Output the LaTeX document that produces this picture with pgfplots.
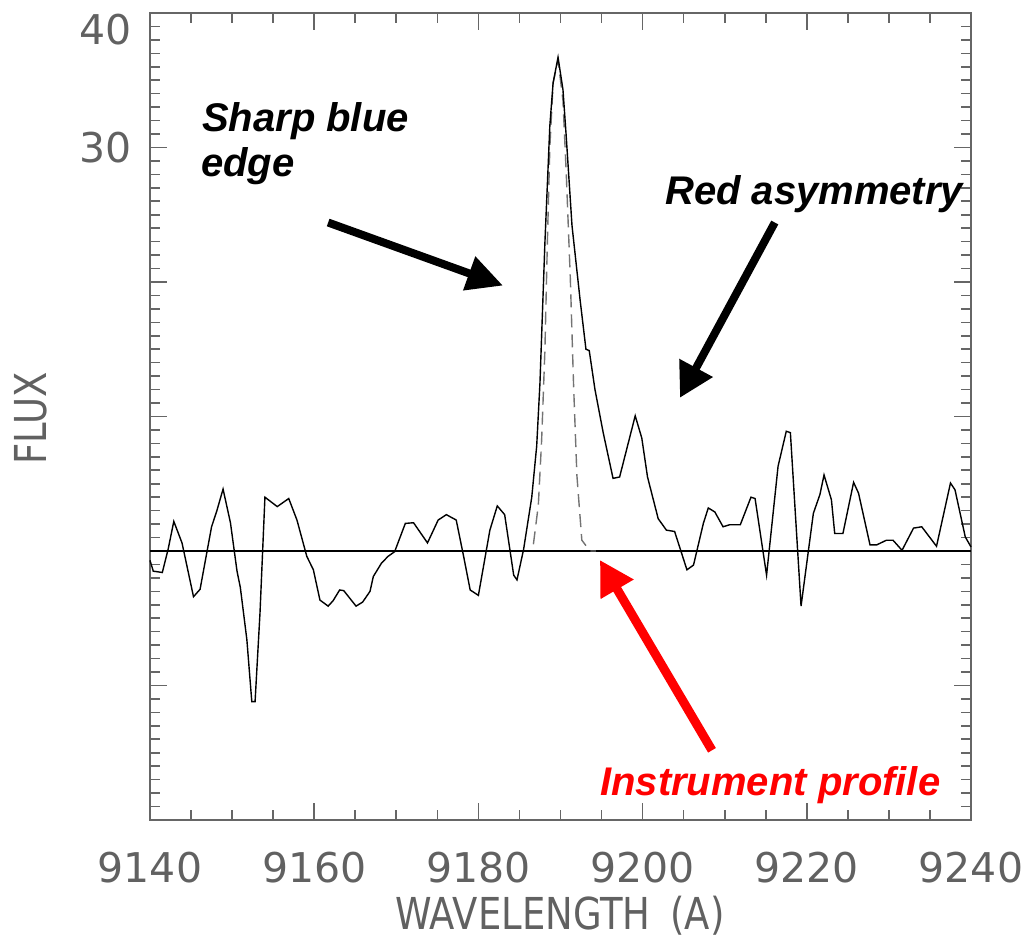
\documentclass[border=0pt]{standalone}
\usepackage{fontspec}
\usepackage{pgfplots}
\pgfplotsset{compat=1.18}
\usetikzlibrary{arrows.meta}

\newfontfamily\tickfont{DejaVu Sans}
\newfontfamily\labfont[FakeStretch=0.84]{DejaVu Sans}
\newfontfamily\annfont{Liberation Sans}

\begin{document}
\begin{tikzpicture}
\begin{axis}[
    scale only axis,
    width=410.5pt, height=403.5pt,
    xmin=9140, xmax=9240, ymin=-20, ymax=40,
    clip=false,
    xtick={9140,9160,...,9240},
    xticklabels={9140,9160,9180,9200,9220,9240},
    minor x tick num=3,
    ytick={-20,-10,...,40},
    yticklabels={,,,,,30,\raisebox{-15.7pt}[0pt][0pt]{40}},
    minor y tick num=9,
    tick align=inside,
    major tick length=8.5pt,
    minor tick length=5pt,
    axis line style={black!60, line width=0.8pt},
    every tick/.style={black!60, line width=0.8pt},
    xticklabel style={font=\tickfont\fontsize{20.5}{24}\selectfont, text=black!62, inner sep=0pt, yshift=-16pt},
    yticklabel style={font=\tickfont\fontsize{20.5}{24}\selectfont, text=black!62, inner sep=0pt, xshift=-9pt},
    xlabel={WAVELENGTH\hspace{0.45em}(A)},
    ylabel={FLUX},
    xlabel style={font=\labfont\fontsize{22}{26}\selectfont, text=black!62, inner sep=0pt,
        at={(axis description cs:0.4994,-0.1363)}, anchor=base},
    ylabel style={font=\labfont\fontsize{22}{26}\selectfont, text=black!62, inner sep=0pt,
        at={(axis description cs:-0.1255,0.498)}, anchor=base, rotate=0},
]
% page size
\path (rel axis cs:-0.1827,-0.1537) rectangle (rel axis cs:1.0670,1.0161);

% zero level
\addplot[black, line width=0.7pt] coordinates {(9140,0) (9240,0)};

% instrument profile
\addplot[black!55, line width=0.7pt, dash pattern=on 6.5pt off 3.5pt] coordinates {
(9186.7,0.5) (9187.3,3.4) (9187.7,8.2) (9188.1,14.9) (9188.4,22.9) (9188.7,30.0)
(9189.1,34.8) (9189.7,36.5) (9190.3,33.5) (9190.7,28.1) (9191.2,20.2) (9191.6,12.2)
(9192.0,5.6) (9192.6,0.8) (9193.6,0.0) (9194.3,0.0)
};

% observed spectrum
\addplot[black, line width=0.7pt] coordinates {
(9140.0,-0.7) (9140.4,-1.5) (9141.5,-1.6) (9142.2,0.1) (9142.9,2.2) (9143.9,0.6)
(9145.3,-3.4) (9146.1,-2.85) (9147.5,1.8) (9148.1,2.9) (9148.9,4.6) (9149.8,2.1)
(9150.6,-1.5) (9151.0,-2.7) (9151.8,-6.6) (9152.4,-11.2) (9152.8,-11.2) (9153.4,-4.6)
(9154.0,4.0) (9155.5,3.3) (9156.9,3.9) (9157.9,2.3) (9159.1,-0.4) (9159.9,-1.4)
(9160.7,-3.65) (9161.7,-4.1) (9162.3,-3.7) (9163.1,-2.9) (9163.6,-2.95) (9165.1,-4.1)
(9165.9,-3.8) (9166.8,-3.0) (9167.2,-1.9) (9168.2,-0.9) (9169.0,-0.4) (9169.8,-0.05)
(9171.1,2.05) (9172.1,2.1) (9173.8,0.6) (9175.1,2.3) (9176.1,2.7) (9177.3,2.3)
(9178.2,-0.4) (9179.0,-2.9) (9180.0,-3.3) (9181.4,1.55) (9182.3,3.35) (9183.2,2.7)
(9184.3,-1.8) (9184.7,-2.15) (9185.5,0.1) (9186.5,4.0) (9187.1,7.8) (9187.5,12.5)
(9188.1,22.9) (9188.7,31.6) (9189.1,34.8) (9189.7,36.7) (9190.3,34.3) (9190.7,30.8)
(9191.4,24.2) (9192.4,18.6) (9193.1,15.0) (9193.5,14.9) (9194.2,12.0) (9195.2,8.8)
(9196.4,5.4) (9197.2,5.5) (9199.1,10.05) (9199.9,8.4) (9200.6,5.5) (9201.9,2.4)
(9202.9,1.55) (9203.9,1.45) (9205.4,-1.4) (9206.2,-1.05) (9207.4,2.05) (9208.0,3.2)
(9208.8,2.9) (9209.8,1.8) (9210.6,1.95) (9211.9,1.95) (9213.2,4.0) (9213.7,3.9)
(9215.1,-1.8) (9216.5,6.3) (9217.5,8.9) (9218.0,8.8) (9219.3,-4.1) (9220.8,2.8)
(9221.6,4.2) (9222.1,5.65) (9223.0,3.8) (9223.4,1.3) (9224.4,1.3) (9225.7,5.1)
(9226.3,4.3) (9227.7,0.45) (9228.5,0.45) (9229.7,0.8) (9230.5,0.8) (9231.6,0.05)
(9233.0,1.7) (9234.0,1.8) (9235.8,0.35) (9237.5,5.05) (9238.05,4.55) (9239.3,1.05)
(9240.0,0.3)
};

% annotations
\node[anchor=base west, inner sep=0pt, font=\annfont\bfseries\itshape\fontsize{20}{24}\selectfont]
    at (axis cs:9146.3,31.2) {Sharp blue};
\node[anchor=base west, inner sep=0pt, font=\annfont\bfseries\itshape\fontsize{20}{24}\selectfont]
    at (axis cs:9146.2,27.85) {edge};
\node[anchor=base west, inner sep=0pt, font=\annfont\bfseries\itshape\fontsize{20}{24}\selectfont]
    at (axis cs:9202.7,25.76) {Red asymmetry};
\node[anchor=base west, inner sep=0pt, text=red, font=\annfont\bfseries\itshape\fontsize{20}{24}\selectfont]
    at (axis cs:9194.8,-18.17) {Instrument profile};

\draw[line width=4pt, -{Triangle[length=18pt, width=17pt]}]
    (axis cs:9161.7,24.42) -- (axis cs:9183.0,19.73);
\draw[line width=4pt, -{Triangle[length=17pt, width=18pt]}]
    (axis cs:9216.1,24.42) -- (axis cs:9204.55,11.39);
\draw[red, line width=4.5pt, -{Triangle[length=17pt, width=18pt]}]
    (axis cs:9208.45,-14.82) -- (axis cs:9194.8,-0.67);
\end{axis}
\end{tikzpicture}
\end{document}
